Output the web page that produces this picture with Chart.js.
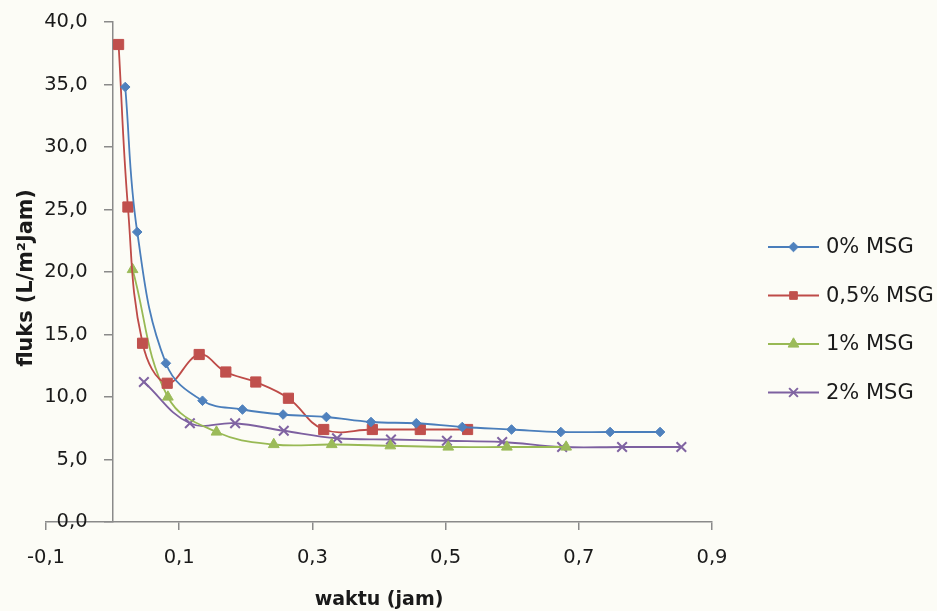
<!DOCTYPE html>
<html>
<head>
<meta charset="utf-8">
<script src="https://cdn.jsdelivr.net/npm/chart.js@4/dist/chart.umd.min.js"></script>
<style>
html,body{margin:0;padding:0;background:#fcfcf6;overflow:hidden}
canvas{display:block}
</style>
</head>
<body>
<canvas id="c" width="937" height="611"></canvas>
<script>
// ---- data ----
const seriesNames = ['0% MSG', '0,5% MSG', '1% MSG', '2% MSG'];

const time0 = [0.019, 0.037, 0.080, 0.135, 0.195, 0.256, 0.321, 0.388, 0.456, 0.525, 0.599, 0.673, 0.747, 0.822];
const flux0 = [34.8, 23.2, 12.7, 9.7, 9.0, 8.6, 8.4, 8.0, 7.9, 7.6, 7.4, 7.2, 7.2, 7.2];

const time05 = [0.009, 0.023, 0.045, 0.082, 0.130, 0.170, 0.215, 0.264, 0.317, 0.390, 0.462, 0.533];
const flux05 = [38.2, 25.2, 14.3, 11.1, 13.4, 12.0, 11.2, 9.9, 7.4, 7.4, 7.4, 7.4];

const time1 = [0.030, 0.083, 0.156, 0.242, 0.329, 0.417, 0.504, 0.592, 0.681];
const flux1 = [20.2, 10.0, 7.2, 6.2, 6.2, 6.1, 6.0, 6.0, 6.0];

const time2 = [0.047, 0.116, 0.184, 0.257, 0.337, 0.418, 0.502, 0.585, 0.675, 0.765, 0.854];
const flux2 = [11.2, 7.9, 7.9, 7.3, 6.7, 6.6, 6.5, 6.4, 6.0, 6.0, 6.0];

const xTicks = [-0.1, 0.1, 0.3, 0.5, 0.7, 0.9];
const yTicks = [0, 5, 10, 15, 20, 25, 30, 35, 40];
const xTitle = 'waktu (jam)';
const yTitle = 'fluks (L/m²Jam)';

// ---- styling ----
const lineColors = ['#4a7ebb', '#be4b48', '#98b954', '#7d60a0'];
const markerFill = ['#4f81bd', '#c0504d', '#9bbb59', '#8064a2'];
const markerStyles = ['rectRot', 'rect', 'triangle', 'crossRot'];
const markerRadius = [4.8, 7.2, 6.2, 6.8];
const legendRadius = [4.8, 5.4, 6.2, 6.2];
const axisColor = '#8a8a8a';
const textColor = '#1a1a1a';
const yAxisAt = 0;            // y axis crosses the x axis at x = 0
const yLabelGap = 0.0375;     // label column offset to the left of the y axis (x units)

const pairs = (xs, ys) => xs.map((x, i) => ({x: x, y: ys[i]}));
const allX = [time0, time05, time1, time2];
const allY = [flux0, flux05, flux1, flux2];

const datasets = seriesNames.map((name, i) => ({
  label: name,
  data: pairs(allX[i], allY[i]),
  yAxisID: 'y',
  showLine: true,
  tension: 0.4,
  borderColor: lineColors[i],
  borderWidth: 1.8,
  pointStyle: markerStyles[i],
  pointRadius: markerRadius[i],
  pointBackgroundColor: markerFill[i],
  pointBorderColor: markerFill[i],
  pointBorderWidth: markerStyles[i] === 'crossRot' ? 2 : 1,
  fill: false
}));

const fmt = v => Number(v).toFixed(1).replace('.', ',');

function drawMarker(ctx, style, x, y, r, fill, stroke, bw) {
  ctx.save();
  ctx.fillStyle = fill; ctx.strokeStyle = stroke; ctx.lineWidth = bw;
  ctx.beginPath();
  if (style === 'rectRot') {
    ctx.moveTo(x - r, y); ctx.lineTo(x, y - r); ctx.lineTo(x + r, y); ctx.lineTo(x, y + r); ctx.closePath();
    ctx.fill(); ctx.stroke();
  } else if (style === 'rect') {
    const s = r * Math.SQRT1_2;
    ctx.rect(x - s, y - s, 2 * s, 2 * s); ctx.fill(); ctx.stroke();
  } else if (style === 'triangle') {
    const a = 2 * Math.PI / 3;
    ctx.moveTo(x, y - r);
    ctx.lineTo(x + Math.sin(a) * r, y - Math.cos(a) * r);
    ctx.lineTo(x + Math.sin(2 * a) * r, y - Math.cos(2 * a) * r);
    ctx.closePath(); ctx.fill(); ctx.stroke();
  } else {
    const d = r * Math.SQRT1_2;
    ctx.moveTo(x - d, y - d); ctx.lineTo(x + d, y + d);
    ctx.moveTo(x + d, y - d); ctx.lineTo(x - d, y + d);
    ctx.stroke();
  }
  ctx.restore();
}

const decor = {
  id: 'decor',
  afterDraw(chart) {
    const ctx = chart.ctx;
    // y axis title (reads bottom to top)
    ctx.save();
    ctx.translate(27, 278);
    ctx.rotate(-Math.PI / 2);
    ctx.font = 'bold 20.8px "DejaVu Sans"';
    ctx.fillStyle = textColor;
    ctx.textAlign = 'center';
    ctx.textBaseline = 'middle';
    ctx.fillText(yTitle, 0, 0);
    ctx.restore();
    // legend with line + marker
    chart.data.datasets.forEach((ds, i) => {
      const y = 247 + i * 48.5;
      ctx.save();
      ctx.strokeStyle = ds.borderColor;
      ctx.lineWidth = ds.borderWidth;
      ctx.beginPath(); ctx.moveTo(768, y); ctx.lineTo(819, y); ctx.stroke();
      ctx.restore();
      drawMarker(ctx, ds.pointStyle, 793.5, y, legendRadius[i], ds.pointBackgroundColor, ds.pointBorderColor, ds.pointBorderWidth);
      ctx.save();
      ctx.font = '21px "DejaVu Sans"';
      ctx.fillStyle = textColor;
      ctx.textAlign = 'left';
      ctx.textBaseline = 'middle';
      ctx.fillText(ds.label, 826, y + 1);
      ctx.restore();
    });
  }
};

const tickFont = { family: 'DejaVu Sans', size: 19.5, lineHeight: 1.2 };
const axisGrid = { display: true, drawOnChartArea: false, drawTicks: true, tickLength: 8, color: axisColor, lineWidth: 1.5 };
const axisBorder = { display: true, color: axisColor, width: 1.5 };
const setYTicks = s => { s.ticks = yTicks.map(v => ({value: v})); };

new Chart(document.getElementById('c'), {
  type: 'scatter',
  data: { datasets: datasets },
  plugins: [decor],
  options: {
    responsive: false,
    animation: false,
    devicePixelRatio: 1,
    layout: { padding: { left: 46, right: 225, top: 22, bottom: 0 } },
    plugins: { legend: { display: false }, tooltip: { enabled: false } },
    scales: {
      x: {
        type: 'linear',
        position: 'bottom',
        min: xTicks[0],
        max: xTicks[xTicks.length - 1],
        afterBuildTicks: s => { s.ticks = xTicks.map(v => ({value: v})); },
        ticks: {
          callback: v => fmt(v),
          font: tickFont,
          color: textColor,
          padding: 16,
          maxRotation: 0,
          autoSkip: false
        },
        grid: axisGrid,
        border: axisBorder,
        title: {
          display: true,
          text: xTitle,
          color: textColor,
          font: { family: 'DejaVu Sans', size: 19, weight: 'bold', lineHeight: 1.2 },
          padding: { top: 2.8, bottom: 0 }
        }
      },
      y: {
        type: 'linear',
        position: { x: yAxisAt },
        min: yTicks[0],
        max: yTicks[yTicks.length - 1],
        afterBuildTicks: setYTicks,
        ticks: { display: false },
        grid: axisGrid,
        border: axisBorder
      },
      yLabels: {
        type: 'linear',
        position: { x: yAxisAt - yLabelGap },
        min: yTicks[0],
        max: yTicks[yTicks.length - 1],
        afterBuildTicks: setYTicks,
        ticks: {
          callback: v => fmt(v),
          font: tickFont,
          color: textColor,
          padding: 0
        },
        grid: { display: false, drawTicks: false },
        border: { display: false }
      }
    }
  }
});
</script>
</body>
</html>
